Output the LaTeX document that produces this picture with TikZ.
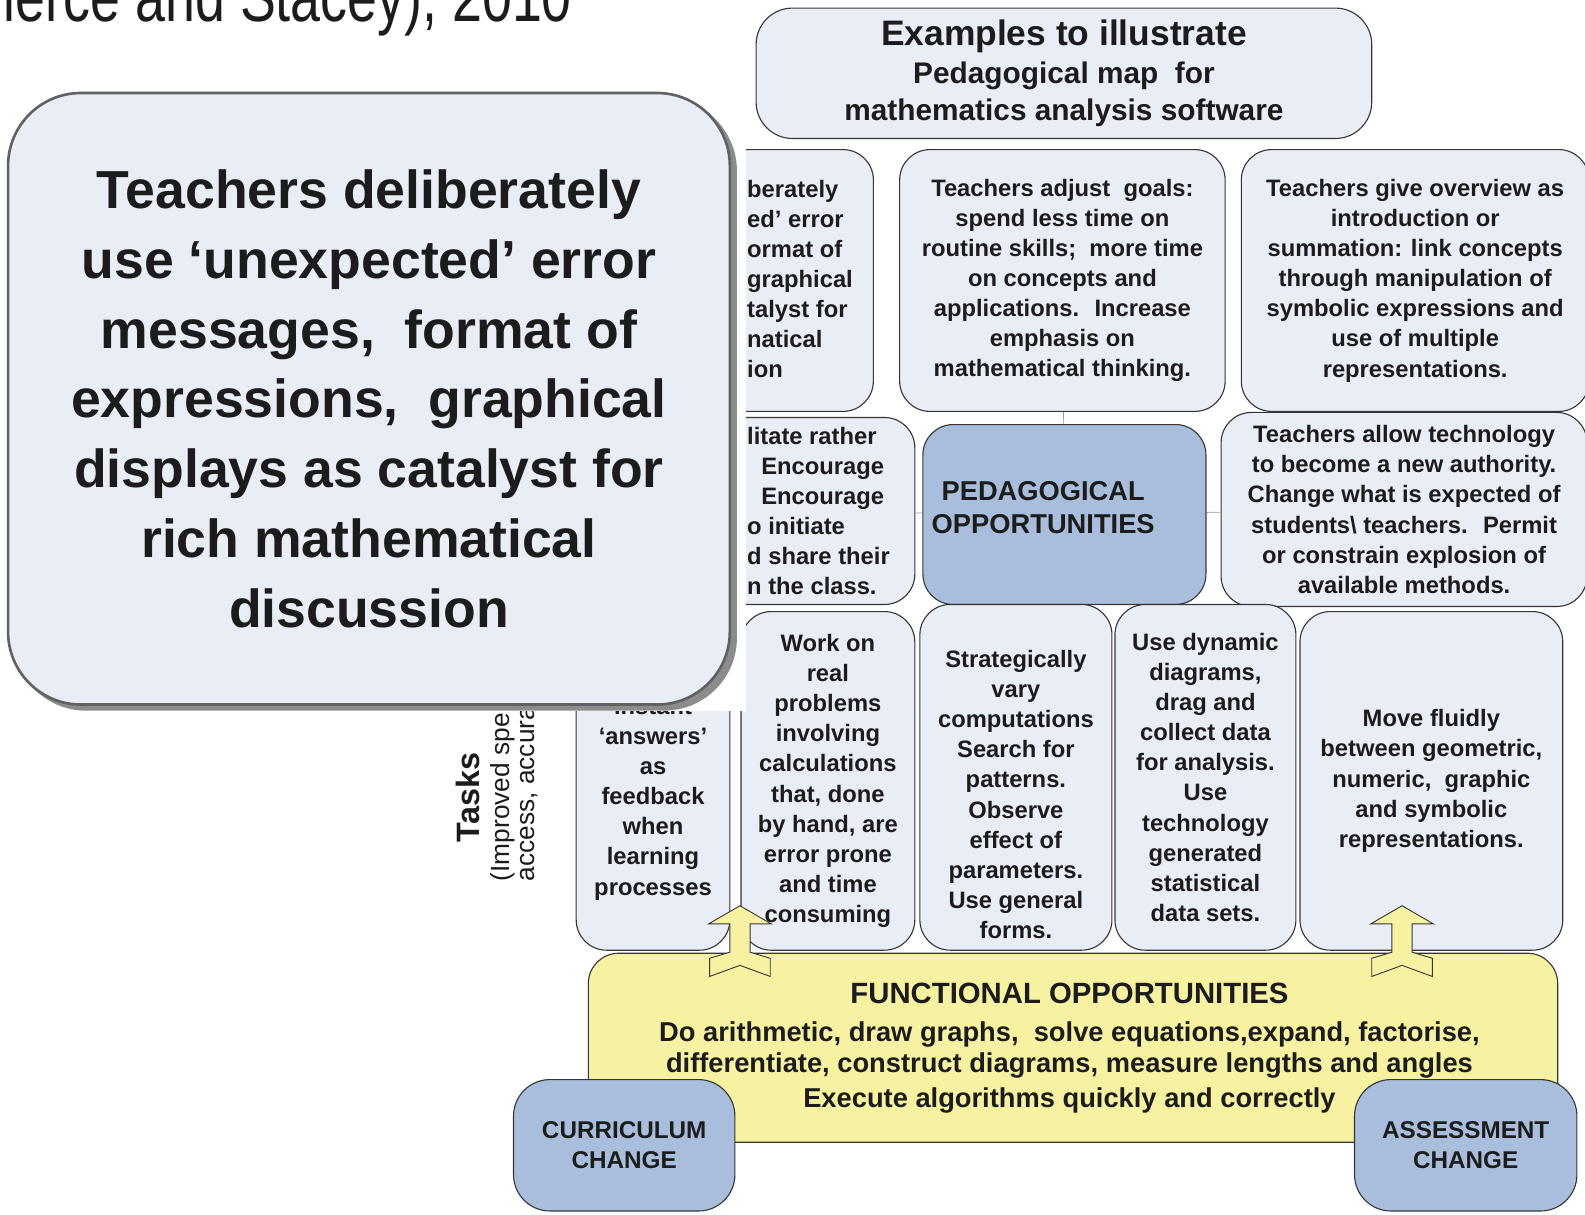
\documentclass[tikz,border=0pt]{standalone}
\usepackage{fontspec}
\setmainfont{Liberation Sans}
\definecolor{boxfill}{HTML}{E8EDF6}
\definecolor{keyfill}{HTML}{A9BEDC}
\definecolor{funcfill}{HTML}{F6F2A2}
\definecolor{boxline}{HTML}{363636}
\definecolor{inkcol}{HTML}{1C1C1C}
\definecolor{linkcol}{HTML}{8797AD}
\newcommand{\boxfont}{\fontsize{23.5}{29.8}\selectfont\bfseries}
\newcommand{\headfont}{\fontsize{29.5}{37}\selectfont\bfseries}
\newcommand{\headbig}{\fontsize{35}{37}\selectfont}
\newcommand{\keyfont}{\fontsize{27}{32}\selectfont\bfseries}
\newcommand{\changefont}{\fontsize{24}{29}\selectfont\bfseries}
\newcommand{\funcfont}{\fontsize{27}{30}\selectfont\bfseries}
\newcommand{\functitle}{\fontsize{29}{30}\selectfont}
\newcommand{\zoomfont}{\fontsize{53}{69}\selectfont\bfseries}
\tikzstyle{mapbox}=[draw=boxline,line width=1.1pt,fill=boxfill,rounded corners=30pt,inner sep=0pt,align=center,text=inkcol,font=\boxfont]
\tikzstyle{keybox}=[mapbox,fill=keyfill]
\tikzstyle{funcbox}=[mapbox,fill=funcfill]
\tikzstyle{plain}=[inner sep=0pt,align=center,text=inkcol,font=\boxfont]
\tikzstyle{link}=[draw=linkcol,line width=0.7pt]
\tikzstyle{hollowarrow}=[draw=boxline,line width=0.9pt,fill=funcfill,line join=miter]
\begin{document}
\begin{tikzpicture}[x=1pt,y=-1pt]
\useasboundingbox (0,0) rectangle (1568,1201);
\clip (0,0) rectangle (1568,1201);
\node[plain,anchor=base east,xscale=0.76,font=\fontsize{70}{80}\selectfont] (source) at (566,21) {(Pierce and Stacey), 2010};

\node[plain,rotate=90,font=\fontsize{32}{36}\selectfont\bfseries] (tasks) at (463,789) {Tasks};
\node[plain,rotate=90,anchor=west,font=\fontsize{26}{26}\selectfont] (speed) at (497,872) {(Improved spe};
\node[plain,rotate=90,anchor=west,font=\fontsize{26}{26}\selectfont] (access) at (523,872) {access, accura};

\node[mapbox,minimum width=609pt,minimum height=129pt,rounded corners=36pt,font=\headfont] (header) at (1052.5,72.5)
  {{\headbig Examples to illustrate}\\Pedagogical map~ for\\mathematics analysis software};

\node[mapbox,minimum width=328pt,minimum height=259pt] (deliberate) at (700,277.5) {};
\node[plain,align=left,anchor=west] (deliberatetext) at (739,276)
  {berately\\ed’ error\\ormat of\\graphical\\talyst for\\natical\\ion};
\node[mapbox,minimum width=322pt,minimum height=259pt] (goals) at (1051,277.5)
  {Teachers adjust~ goals:\\spend less time on\\routine skills;~ more time\\on concepts and\\applications.~ Increase\\emphasis on\\mathematical thinking.};
\node[mapbox,minimum width=344pt,minimum height=259pt] (overview) at (1400,277.5)
  {Teachers give overview as\\introduction or\\summation: link concepts\\through manipulation of\\symbolic expressions and\\use of multiple\\representations.};

\node[mapbox,minimum width=345pt,minimum height=185pt] (facilitate) at (732.5,505.5) {};
\node[plain,align=left,anchor=west] (facilitatetext) at (739,505.5)
  {litate rather\\\hspace*{14pt}Encourage\\\hspace*{14pt}Encourage\\o initiate\\d share their\\n the class.};
\node[keybox,minimum width=280pt,minimum height=178pt] (pedopp) at (1053,509) {};
\node[plain,font=\keyfont] (pedtext) at (1032,502) {PEDAGOGICAL\\OPPORTUNITIES};
\node[mapbox,minimum width=362pt,minimum height=192pt] (authority) at (1389,504)
  {Teachers allow technology\\to become a new authority.\\Change what is expected of\\students\textbackslash{} teachers.~ Permit\\or constrain explosion of\\available methods.};

\draw[link] (pedopp) -- (goals);
\draw[link] (pedopp) -- (facilitate);
\draw[link] (pedopp) -- (authority);

\node[funcbox,minimum width=959pt,minimum height=187pt] (functional) at (1061.5,1036.5) {};
\node[plain,font=\funcfont] (functext) at (1058,1037)
  {{\functitle FUNCTIONAL OPPORTUNITIES}\\[8pt]Do arithmetic, draw graphs,~ solve equations,expand, factorise,\\differentiate, construct diagrams, measure lengths and angles\\[5pt]Execute algorithms quickly and correctly};

\node[mapbox,minimum width=152pt,minimum height=335pt] (instant) at (646,772.5) {};
\node[plain] (instanttext) at (646,790) {instant\\‘answers’\\as\\feedback\\when\\learning\\processes};
\node[mapbox,minimum width=172pt,minimum height=335pt] (realprob) at (819,772.5)
  {Work on\\real\\problems\\involving\\calculations\\that, done\\by hand, are\\error prone\\and time\\consuming};
\node[mapbox,minimum width=190pt,minimum height=342pt] (strategic) at (1005,769) {};
\node[plain] (strategictext) at (1005,786)
  {Strategically\\vary\\computations\\Search for\\patterns.\\Observe\\effect of\\parameters.\\Use general\\forms.};
\node[mapbox,minimum width=179pt,minimum height=342pt] (dynamic) at (1192.5,769)
  {Use dynamic\\diagrams,\\drag and\\collect data\\for analysis.\\Use\\technology\\generated\\statistical\\data sets.};
\node[mapbox,minimum width=260pt,minimum height=335pt] (fluid) at (1416,772.5)
  {Move fluidly\\between geometric,\\numeric,~ graphic\\and symbolic\\representations.};

\foreach \ax in {732,1387}
  \draw[hollowarrow] (\ax,896) -- (\ax+31,914) -- (\ax+10,914) -- (\ax+10,942) -- (\ax+30,948) -- (\ax+30,966)
    -- (\ax,955) -- (\ax-30,966) -- (\ax-30,948) -- (\ax-10,942) -- (\ax-10,914) -- (\ax-31,914) -- cycle;

\node[keybox,minimum width=219pt,minimum height=130pt,rounded corners=36pt,font=\changefont] (curric) at (617.5,1133) {CURRICULUM\\CHANGE};
\node[keybox,minimum width=220pt,minimum height=130pt,rounded corners=36pt,font=\changefont] (assess) at (1450,1133) {ASSESSMENT\\CHANGE};

\fill[white] (0,84) rectangle (738,703);
\fill[black!45,rounded corners=72pt] (13,97) rectangle (729,703);
\node[mapbox,draw=black!62,line width=2.6pt,minimum width=714pt,minimum height=605pt,rounded corners=72pt,font=\zoomfont] (zoomed) at (365,394.5)
  {Teachers deliberately\\use ‘unexpected’ error\\messages,~ format of\\expressions,~ graphical\\displays as catalyst for\\rich mathematical\\discussion};
\end{tikzpicture}
\end{document}
